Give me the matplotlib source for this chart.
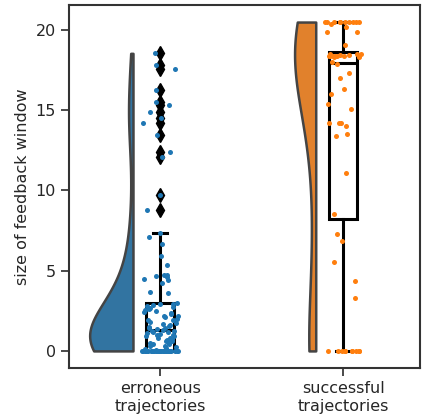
import numpy as np
import matplotlib.pyplot as plt

# values
categories = ["erroneous\ntrajectories", "successful\ntrajectories"]

erroneous = (
    [0.0] * 30
    + [0.08, 0.12, 0.2, 0.25, 0.3, 0.33, 0.4, 0.45, 0.5, 0.52, 0.6, 0.64, 0.7, 0.75,
       0.8, 0.83, 0.9, 0.95, 1.0, 1.02, 1.08, 1.1, 1.15, 1.2, 1.22, 1.25, 1.3, 1.35,
       1.4, 1.45, 1.5, 1.55, 1.6, 1.7, 1.75, 1.8, 1.9, 1.95, 2.0, 2.1, 2.15, 2.2, 2.3,
       2.35, 2.4, 2.5, 2.55, 2.6, 2.7, 2.75, 2.8, 2.85, 2.9, 2.95, 3.0]
    + [3.6, 3.68, 4.22, 4.42, 4.49, 4.63, 4.69, 4.71, 4.76, 5.34, 5.94, 6.65, 7.08, 7.33]
    + [8.77, 9.72, 12.1, 12.42, 13.46, 14.2, 14.5, 14.9, 15.35, 15.5, 16.26, 17.57,
       17.8, 18.55]
)

successful = (
    [0.0] * 10
    + [3.32, 4.33, 5.56, 6.88, 7.26, 8.56, 11.1, 13.4, 13.5, 14.0, 14.2, 14.2, 14.2,
       15.1, 15.4, 16.0, 16.3, 17.0, 17.3, 17.9, 18.0]
    + [18.3, 18.35, 18.4, 18.4, 18.4, 18.4, 18.4, 18.4, 18.4, 18.45, 18.45, 18.5,
       18.5, 18.5]
    + [19.1, 19.9, 19.9, 20.2, 20.4]
    + [20.5] * 10
)

groups = [np.array(erroneous), np.array(successful)]
violin_colors = ["#3274a1", "#e1812c"]
point_colors = ["#1f77b4", "#ff7f0e"]


def kde(data, grid):
    # gaussian kde with scott's rule
    h = len(data) ** (-0.2) * data.std(ddof=1)
    z = (grid[:, None] - data[None, :]) / h
    return np.exp(-0.5 * z ** 2).sum(axis=1) / (len(data) * h * np.sqrt(2 * np.pi))


plt.rcParams['font.family'] = 'DejaVu Sans'
fig = plt.figure(figsize=(4.3, 4.2), dpi=100)
ax = fig.add_axes([0.1605, 0.124, 0.816, 0.864])

# half violins (cut at data range)
grids, dens = [], []
for d in groups:
    g = np.linspace(d.min(), d.max(), 300)
    grids.append(g)
    dens.append(kde(d, g))
peak = max(k.max() for k in dens)
for i, (g, k) in enumerate(zip(grids, dens)):
    base = i - 0.15
    ax.fill_betweenx(g, base - 0.237 * k / peak, base, facecolor=violin_colors[i],
                     edgecolor="#444444", linewidth=1.8, zorder=1)

# boxplots
ax.boxplot(groups, positions=[0, 1], widths=0.153, whis=1.5, patch_artist=True,
           boxprops=dict(facecolor="none", edgecolor="black", linewidth=2.2),
           medianprops=dict(color="black", linewidth=2.2),
           whiskerprops=dict(color="black", linewidth=2.2),
           capprops=dict(color="black", linewidth=2.2),
           flierprops=dict(marker="d", markerfacecolor="black", markeredgecolor="black",
                           markersize=7),
           zorder=2)

# jittered points
rng = np.random.default_rng(3)
for i, d in enumerate(groups):
    x = i + rng.uniform(-0.1, 0.1, len(d))
    ax.scatter(x, d, s=13, color=point_colors[i], linewidths=0, zorder=3)

ax.set_xlim(-0.5, 1.42)
ax.set_ylim(-1.06, 21.56)
ax.set_xticks([0, 1])
ax.set_xticklabels(categories, fontsize=11.5)
ax.set_yticks([0, 5, 10, 15, 20])
ax.tick_params(axis="both", labelsize=11.5, length=6, width=1.25, color="#333333",
               labelcolor="#262626")
ax.set_ylabel("size of feedback window", fontsize=11.5, color="#262626")
for s in ax.spines.values():
    s.set_linewidth(1.5)
    s.set_color("#333333")

fig.savefig("out.png")
